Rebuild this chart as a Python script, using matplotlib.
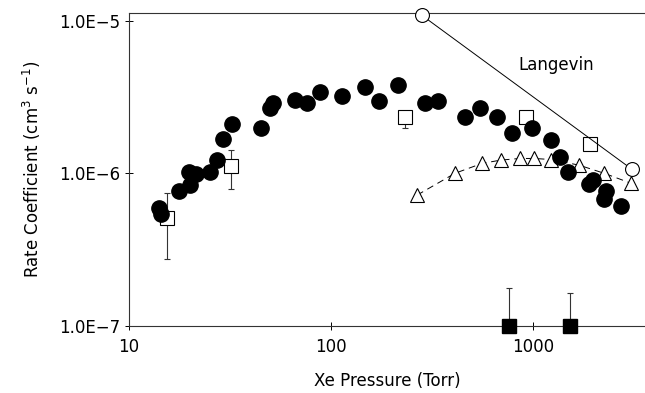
import matplotlib.pyplot as plt

plt.rcParams['font.family'] = 'DejaVu Sans'

# filled circles
circ_p = [14.1, 14.4, 17.7, 20.0, 19.8, 21.5, 25.2, 27.3, 29.2, 32.4, 45.0, 49.9, 51.6,
          66.3, 76.1, 88.2, 113, 147, 173, 215, 292, 339, 461, 547, 663, 787, 989,
          1227, 1361, 1490, 1893, 1982, 2298, 2246, 2727]
circ_k = [5.9e-7, 5.4e-7, 7.7e-7, 8.4e-7, 1.02e-6, 9.9e-7, 1.02e-6, 1.23e-6, 1.67e-6,
          2.09e-6, 1.97e-6, 2.66e-6, 2.87e-6, 3.0e-6, 2.87e-6, 3.38e-6, 3.19e-6, 3.65e-6,
          2.96e-6, 3.76e-6, 2.87e-6, 2.96e-6, 2.32e-6, 2.66e-6, 2.32e-6, 1.83e-6, 1.97e-6,
          1.64e-6, 1.27e-6, 1.02e-6, 8.5e-7, 9.1e-7, 7.7e-7, 6.8e-7, 6.1e-7]

# open squares with error bars
sq_p = [15.4, 32.0, 232, 926, 1914]
sq_k = [5.1e-7, 1.11e-6, 2.32e-6, 2.32e-6, 1.55e-6]
sq_lo = [2.74e-7, 7.85e-7, 1.97e-6, 2.32e-6, 1.55e-6]
sq_hi = [7.4e-7, 1.41e-6, 2.32e-6, 2.32e-6, 1.55e-6]

# open triangles
tri_p = [267, 411, 559, 694, 862, 1011, 1227, 1689, 2246, 3055]
tri_k = [7.2e-7, 1.0e-6, 1.16e-6, 1.22e-6, 1.25e-6, 1.25e-6, 1.23e-6, 1.13e-6, 1.0e-6, 8.6e-7]

# Langevin
lang_p = [282, 3090]
lang_k = [1.08e-5, 1.06e-6]

# filled squares (upper limits)
fsq_p = [760, 1520]
fsq_k = [1.0e-7, 1.0e-7]
fsq_hi = [1.78e-7, 1.64e-7]

fig = plt.figure(figsize=(6.45, 3.93), dpi=100)
ax = fig.add_axes([0.2, 0.1705, 0.8, 0.7964])
ax.set_xscale('log')
ax.set_yscale('log')
ax.set_xlim(10, 3581)
ax.set_ylim(1e-7, 1.12e-5)

ax.errorbar(sq_p, sq_k,
            yerr=[[k - lo for k, lo in zip(sq_k, sq_lo)], [hi - k for k, hi in zip(sq_k, sq_hi)]],
            fmt='none', ecolor='#333333', elinewidth=0.8, capsize=2.5, capthick=0.8, zorder=2)
ax.errorbar(fsq_p, fsq_k,
            yerr=[[0, 0], [hi - k for k, hi in zip(fsq_k, fsq_hi)]],
            fmt='none', ecolor='#333333', elinewidth=0.8, capsize=2.5, capthick=0.8, zorder=2,
            clip_on=False)

ax.plot(lang_p, lang_k, '-o', color='black', lw=0.7, ms=10, mfc='white', mew=0.8,
        zorder=4, clip_on=False)
ax.plot(tri_p, tri_k, '^', color='black', ls=(0, (7, 5)), lw=0.7, ms=10, mfc='white',
        mew=0.8, zorder=4, clip_on=False)
ax.plot(sq_p, sq_k, 's', color='black', ls='none', ms=10, mfc='white', mew=0.8, zorder=3)
ax.plot(circ_p, circ_k, 'o', color='black', ls='none', ms=11, zorder=5)
ax.plot(fsq_p, fsq_k, 's', color='black', ls='none', ms=10, zorder=5, clip_on=False)

ax.text(843, 5.08e-6, 'Langevin', fontsize=12, va='center', ha='left')

ax.set_xticks([10, 100, 1000])
ax.set_xticklabels(['10', '100', '1000'])
ax.set_yticks([1e-7, 1e-6, 1e-5])
ax.set_yticklabels(['1.0E\u22127', '1.0E\u22126', '1.0E\u22125'])
ax.minorticks_off()
ax.tick_params(direction='inout', length=6, width=0.7, labelsize=12)
ax.tick_params(axis='x', pad=6)
ax.tick_params(axis='y', pad=3)

ax.spines['right'].set_visible(False)
for s in ['left', 'bottom', 'top']:
    ax.spines[s].set_linewidth(0.8)
    ax.spines[s].set_color('#333333')

ax.set_xlabel('Xe Pressure (Torr)', fontsize=12, labelpad=11)
ax.set_ylabel('Rate Coefficient (cm$^3$ s$^{-1}$)', fontsize=12, labelpad=12)

fig.savefig('out.png', dpi=100)
